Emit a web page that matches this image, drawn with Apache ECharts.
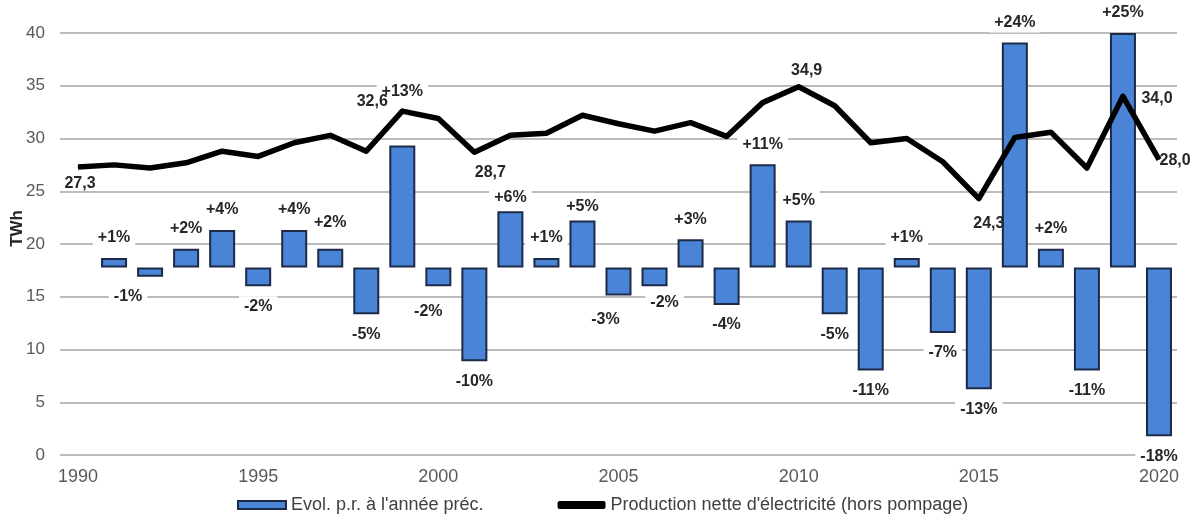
<!DOCTYPE html>
<html>
<head>
<meta charset="utf-8">
<script src="https://cdn.jsdelivr.net/npm/echarts@6/dist/echarts.min.js"></script>
<style>
  html, body { margin: 0; padding: 0; background: #fff; }
  #chart { width: 1204px; height: 522px; }
</style>
</head>
<body>
<div id="chart"></div>
<script>
// Years on the horizontal axis
const years = [];
for (let y = 1990; y <= 2020; y++) years.push(String(y));

// Net electricity production (excluding pumping), TWh
const production = [
  27.3, 27.5, 27.2, 27.7, 28.8, 28.3, 29.6, 30.3, 28.8, 32.6,
  31.9, 28.7, 30.3, 30.5, 32.2, 31.4, 30.7, 31.5, 30.2, 33.4,
  34.9, 33.1, 29.6, 30.0, 27.8, 24.3, 30.1, 30.6, 27.2, 34.0,
  28.0
];

// Change versus previous year, % (none for the first year)
const evolution = [
  null, 1, -1, 2, 4, -2, 4, 2, -5, 13,
  -2, -10, 6, 1, 5, -3, -2, 3, -4, 11,
  5, -5, -11, 1, -7, -13, 24, 2, -11, 25,
  -18
];

// Left axis ticks (TWh)
const yTicks = [0, 5, 10, 15, 20, 25, 30, 35, 40];

const seriesNames = ["Evol. p.r. à l'année préc.", "Production nette d'électricité (hors pompage)"];

const FONT = "'Liberation Sans', Arial, sans-serif";

// Which production points carry a value label, and where it sits
const lineLabelPlacement = {
  1990: { position: 'bottom', distance: 8, offset: [2, 0] },
  1999: { position: 'left', distance: 14, offset: [0, -9] },
  2001: { position: 'bottom', distance: 12, offset: [16, 0] },
  2010: { position: 'top', distance: 8, offset: [8, 0] },
  2015: { position: 'bottom', distance: 16, offset: [10, 0] },
  2019: { position: 'right', distance: 18, offset: [0, 2] },
  2020: { position: 'right', distance: 0, offset: [0, 1] }
};

// Hand nudges for a few percentage labels
const barLabelNudge = {
  1992: { offset: [-22, 0] },
  1997: { distance: 16 },
  1999: { distance: 44 },
  2000: { offset: [-10, 0], distance: 15 },
  2002: { distance: 4 },
  2004: { distance: 4 },
  2005: { offset: [-13, 0], distance: 14 },
  2006: { offset: [10, 0], distance: 6 }
};

const fmtTWh = v => v.toFixed(1).replace('.', ',');
const fmtPct = v => (v > 0 ? '+' : '') + v + '%';

const barData = evolution.map((v, i) => {
  if (v === null) return null;
  const lbl = Object.assign({
    show: true,
    position: v >= 0 ? 'top' : 'bottom',
    distance: 10,
    formatter: fmtPct(v)
  }, barLabelNudge[years[i]] || {});
  return { value: v, label: lbl };
});

const lineData = production.map((v, i) => {
  const p = lineLabelPlacement[years[i]];
  if (!p) return { value: v };
  return {
    value: v,
    label: Object.assign({ show: true, formatter: fmtTWh(v) }, p)
  };
});

const chart = echarts.init(document.getElementById('chart'), null, { renderer: 'canvas' });

chart.setOption({
  animation: false,
  backgroundColor: '#ffffff',
  textStyle: { fontFamily: FONT },
  grid: { left: 60, right: 27, top: 33, bottom: 67, containLabel: false },
  legend: {
    data: [
      { name: seriesNames[0], icon: 'rect' },
      { name: seriesNames[1], icon: 'roundRect' }
    ],
    left: 232,
    bottom: 3,
    itemWidth: 48,
    itemHeight: 8,
    itemGap: 74,
    textStyle: { fontFamily: FONT, fontSize: 18, color: '#404040' }
  },
  xAxis: {
    type: 'category',
    data: years,
    boundaryGap: true,
    axisLine: { show: false },
    axisTick: { show: false },
    axisLabel: {
      interval: 4,
      margin: 13,
      color: '#595959',
      fontSize: 18,
      fontFamily: FONT
    }
  },
  yAxis: [
    {
      type: 'value',
      min: yTicks[0],
      max: yTicks[yTicks.length - 1],
      interval: yTicks[1] - yTicks[0],
      axisLine: { show: false },
      axisTick: { show: false },
      axisLabel: { margin: 15, color: '#595959', fontSize: 17, fontFamily: FONT },
      splitLine: { lineStyle: { color: '#a6a6a6', width: 1.5 } }
    },
    {
      type: 'value',
      min: -20,
      max: 25,
      interval: 5,
      show: false,
      splitLine: { show: false }
    }
  ],
  graphic: [
    {
      type: 'text',
      left: 9,
      top: 210,
      rotation: Math.PI / 2,
      style: {
        text: 'TWh',
        fontFamily: FONT,
        fontSize: 17,
        fontWeight: 'bold',
        fill: '#262626'
      }
    }
  ],
  series: [
    {
      name: seriesNames[0],
      type: 'bar',
      yAxisIndex: 1,
      barWidth: 26,
      data: barData,
      itemStyle: { color: '#4a84d6', borderColor: '#1c2a48', borderWidth: 2 },
      label: {
        fontFamily: FONT,
        fontSize: 16,
        fontWeight: 'bold',
        color: '#262626',
        backgroundColor: '#ffffff',
        padding: [2, 5]
      },
      z: 2
    },
    {
      name: seriesNames[1],
      type: 'line',
      data: lineData,
      symbol: 'circle',
      symbolSize: 1,
      showSymbol: true,
      lineStyle: { color: '#000000', width: 5.5, join: 'round' },
      itemStyle: { color: '#000000' },
      label: {
        show: false,
        fontFamily: FONT,
        fontSize: 16,
        fontWeight: 'bold',
        color: '#262626'
      },
      z: 3
    }
  ]
});
</script>
</body>
</html>
